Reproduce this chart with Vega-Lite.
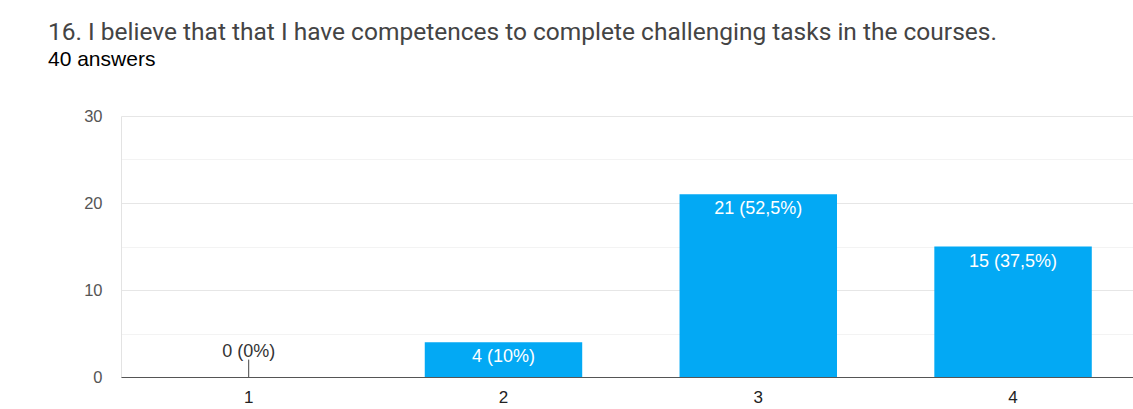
{
  "$schema": "https://vega.github.io/schema/vega-lite/v6.json",
  "width": 1012,
  "height": 261,
  "autosize": {"type": "none"},
  "padding": {"left": 121, "top": 116, "right": 0, "bottom": 32},
  "background": "white",
  "title": {
    "text": "16. I believe that that I have competences to complete challenging tasks in the courses.",
    "subtitle": "40 answers",
    "anchor": "start",
    "frame": "group",
    "dx": -73,
    "offset": 37,
    "font": "Roboto",
    "fontSize": 24.5,
    "fontWeight": "normal",
    "color": "#444444",
    "subtitleFont": "Liberation Sans",
    "subtitleFontSize": 21,
    "subtitleColor": "#000000",
    "subtitlePadding": 4
  },
  "data": {
    "values": [
      {"option": "1", "count": 0, "label": "0 (0%)"},
      {"option": "2", "count": 4, "label": "4 (10%)"},
      {"option": "3", "count": 21, "label": "21 (52,5%)"},
      {"option": "4", "count": 15, "label": "15 (37,5%)"}
    ]
  },
  "encoding": {
    "x": {
      "field": "option",
      "type": "ordinal",
      "sort": null,
      "scale": {"paddingInner": 0.382, "paddingOuter": 0.177, "align": 0.543},
      "axis": {
        "title": null,
        "labelAngle": 0,
        "ticks": false,
        "domain": true,
        "domainColor": "#555555",
        "domainWidth": 1.2,
        "labelFont": "Liberation Sans",
        "labelFontSize": 17,
        "labelColor": "#222222",
        "labelPadding": 12,
        "zindex": 1
      }
    }
  },
  "layer": [
    {
      "mark": {"type": "bar", "color": "#03a9f4"},
      "encoding": {
        "y": {
          "field": "count",
          "type": "quantitative",
          "scale": {"domain": [0, 30], "nice": false},
          "axis": {
            "title": null,
            "values": [0, 5, 10, 15, 20, 25, 30],
            "labelExpr": "datum.value % 10 == 0 ? datum.label : ''",
            "grid": true,
            "gridColor": {"condition": {"test": "datum.value % 10 == 5", "value": "#f3f3f3"}, "value": "#e6e6e6"},
            "ticks": false,
            "domain": true,
            "domainColor": "#e3e3e3",
            "labelFont": "Liberation Sans",
            "labelFontSize": 16.5,
            "labelColor": "#555555",
            "labelPadding": 19
          }
        }
      }
    },
    {
      "transform": [{"filter": "datum.count > 0"}],
      "mark": {"type": "text", "color": "white", "baseline": "middle", "dy": 15, "font": "Liberation Sans", "fontSize": 18},
      "encoding": {
        "y": {"field": "count", "type": "quantitative"},
        "text": {"field": "label"}
      }
    },
    {
      "transform": [{"filter": "datum.count == 0"}],
      "mark": {"type": "text", "color": "#333333", "baseline": "middle", "dy": -25, "font": "Liberation Sans", "fontSize": 18},
      "encoding": {
        "y": {"field": "count", "type": "quantitative"},
        "text": {"field": "label"}
      }
    },
    {
      "transform": [{"filter": "datum.count == 0"}],
      "mark": {"type": "rule", "color": "#444444", "strokeWidth": 1},
      "encoding": {
        "y": {"field": "count", "type": "quantitative"},
        "y2": {"datum": 2}
      }
    }
  ],
  "config": {"view": {"stroke": null}}
}
